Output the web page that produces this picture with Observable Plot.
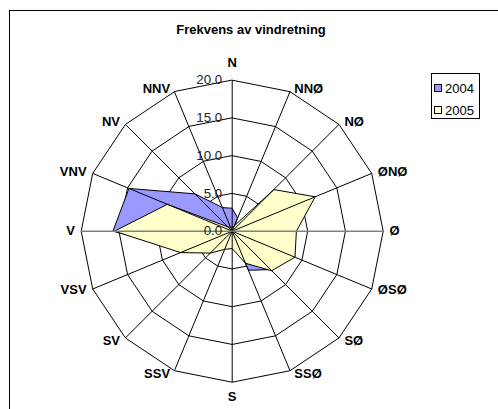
<!DOCTYPE html>
<html>
<head>
<meta charset="utf-8">
<script src="https://cdn.jsdelivr.net/npm/d3@7"></script>
<script src="https://cdn.jsdelivr.net/npm/@observablehq/plot@0.6"></script>
<style>
  html, body { margin: 0; padding: 0; background: #fff; }
  #wrap { position: relative; width: 498px; height: 409px; overflow: hidden; font-family: "Liberation Sans", Arial, sans-serif; }
  #chart { position: absolute; left: 0; top: 0; }
  #frame { position: absolute; left: 9px; top: 10px; width: 600px; height: 600px; border: 1px solid #000; pointer-events: none; }
  #title { position: absolute; left: 0; top: 22px; width: 502px; text-align: center; font-size: 13px; font-weight: bold; line-height: 16px; color: #000; }
  #legend { position: absolute; left: 431px; top: 73px; width: 49px; height: 46px; border: 1px solid #000; background: #fff; box-sizing: border-box; }
  .item { position: absolute; left: 2px; height: 16px; line-height: 16px; font-size: 13px; color: #000; white-space: nowrap; }
  .sw { display: inline-block; width: 6px; height: 6px; border: 1px solid #000; margin-right: 3px; vertical-align: 1px; }
</style>
</head>
<body>
<div id="wrap">
  <div id="chart"></div>
  <div id="title"></div>
  <div id="legend"></div>
  <div id="frame"></div>
</div>
<script>
const titleText = "Frekvens av vindretning";
const directions = ["N","NNØ","NØ","ØNØ","Ø","ØSØ","SØ","SSØ","S","SSV","SV","VSV","V","VNV","NV","NNV"];
const seriesNames = ["2004", "2005"];
const seriesColors = ["#9999FF", "#FFFFCC"];
const values2004 = [3.0, 1.9, 0.0, 0.5, 1.0, 2.0, 7.2, 5.6, 0.3, 1.5, 3.0, 6.5, 15.8, 14.8, 7.0, 3.4];
const values2005 = [0.5, 0.8, 7.8, 11.9, 8.5, 9.0, 7.4, 4.6, 2.3, 2.6, 4.1, 7.4, 15.6, 9.3, 0.8, 0.6];
const ringValues = [5, 10, 15, 20];
const tickValues = [0, 5, 10, 15, 20];
const rMax = 20;

const ang = i => i * 2 * Math.PI / directions.length;
const pt = (r, i) => ({x: r * Math.sin(ang(i)), y: r * Math.cos(ang(i))});

const rings = ringValues.flatMap(r => directions.map((d, i) => ({ring: r, ...pt(r, i)})));
const spokes = directions.map((d, i) => ({d, i, ...pt(rMax, i)}));
const s2004 = values2004.map((v, i) => ({dir: directions[i], v, ...pt(v, i)}));
const s2005 = values2005.map((v, i) => ({dir: directions[i], v, ...pt(v, i)}));
const labels = directions.map((d, i) => ({d, i, ...pt(rMax + 0.45, i)}));
const ticks = tickValues.map(t => ({t, label: t.toFixed(1)}));

const isHoriz = d => d.i === 4 || d.i === 12;

const chart = Plot.plot({
  width: 498,
  height: 409,
  marginLeft: 80.7,
  marginRight: 115.3,
  marginTop: 79.7,
  marginBottom: 27.3,
  x: {domain: [-rMax, rMax], axis: null},
  y: {domain: [-rMax, rMax], axis: null},
  style: {fontFamily: "'Liberation Sans', Arial, sans-serif", background: "transparent"},
  marks: [
    Plot.line(rings, {x: "x", y: "y", z: "ring", curve: "linear-closed", stroke: "#000", strokeWidth: 1}),
    Plot.line(s2004, {x: "x", y: "y", curve: "linear-closed", fill: seriesColors[0], stroke: "#000", strokeWidth: 1}),
    Plot.line(s2005, {x: "x", y: "y", curve: "linear-closed", fill: seriesColors[1], stroke: "#000", strokeWidth: 1}),
    Plot.link(spokes.filter(d => !isHoriz(d)), {x1: 0, y1: 0, x2: "x", y2: "y", stroke: "#000", strokeWidth: 1}),
    Plot.link(spokes.filter(isHoriz), {x1: 0, y1: 0, x2: "x", y2: "y", stroke: "#808080", strokeWidth: 1.6}),
    Plot.text(ticks, {x: 0, y: "t", text: "label", textAnchor: "end", dx: -10, fontSize: 13.3, fill: "#222"}),
    Plot.text(labels.filter(d => d.i > 0 && d.i < 8), {x: "x", y: "y", text: "d", textAnchor: "start", dx: 3, fontSize: 13, fontWeight: "bold", fill: "#000"}),
    Plot.text(labels.filter(d => d.i > 8), {x: "x", y: "y", text: "d", textAnchor: "end", dx: -3, fontSize: 13, fontWeight: "bold", fill: "#000"}),
    Plot.text(spokes.filter(d => d.i === 0), {x: "x", y: "y", text: "d", dy: -17, fontSize: 13, fontWeight: "bold", fill: "#000"}),
    Plot.text(spokes.filter(d => d.i === 8), {x: "x", y: "y", text: "d", dy: 15, fontSize: 13, fontWeight: "bold", fill: "#000"})
  ]
});
document.getElementById("chart").appendChild(chart);
document.getElementById("title").textContent = titleText;

const legend = document.getElementById("legend");
seriesNames.forEach((name, k) => {
  const item = document.createElement("div");
  item.className = "item";
  item.style.top = (7 + k * 21.5) + "px";
  const sw = document.createElement("span");
  sw.className = "sw";
  sw.style.background = seriesColors[k];
  item.appendChild(sw);
  item.appendChild(document.createTextNode(name));
  legend.appendChild(item);
});
</script>
</body>
</html>
